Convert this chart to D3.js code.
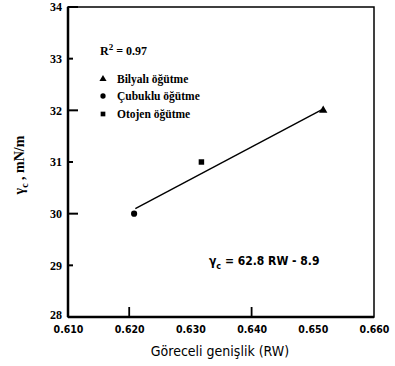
<!DOCTYPE html>
<html><head><meta charset="utf-8">
<script src="https://cdn.jsdelivr.net/npm/d3@7/dist/d3.min.js"></script>
<style>body{margin:0;background:#fff}svg{display:block}</style>
</head><body><svg id="c" width="395" height="366"></svg>
<script>
const xTicks = [0.610, 0.620, 0.630, 0.640, 0.650, 0.660];
const xTickLabels = ["0.610", "0.620", "0.630", "0.640", "0.650", "0.660"];
const yTicks = [28, 29, 30, 31, 32, 33, 34];
const seriesNames = ["Bilyalı öğütme", "Çubuklu öğütme", "Otojen öğütme"];
const seriesSymbols = ["triangle", "circle", "square"];
const seriesX = [0.6517, 0.6208, 0.6318];
const seriesY = [32.0, 30.0, 31.0];
const fitSlope = 62.8, fitIntercept = -8.9;
const fitRange = [0.621, 0.6515];

const svg = d3.select("#c");
const m = {l: 68, r: 21, t: 7, b: 49};
const W = 395, H = 366;
const x = d3.scaleLinear().domain([0.610, 0.660]).range([m.l, W - m.r]);
const y = d3.scaleLinear().domain([28, 34]).range([H - m.b, m.t]);
const serif = "'Liberation Serif', serif";
const sans = "'DejaVu Sans Condensed','DejaVu Sans', sans-serif";

// frame
svg.append("rect").attr("x", x(0.610)).attr("y", y(34)).attr("width", x(0.660) - x(0.610)).attr("height", y(28) - y(34))
  .attr("fill", "none").attr("stroke", "#000").attr("stroke-width", 1.5);
svg.append("line").attr("x1", x(0.610)).attr("x2", x(0.610)).attr("y1", y(34)).attr("y2", y(28)).attr("stroke", "#000").attr("stroke-width", 2.5);
svg.append("line").attr("x1", x(0.610)).attr("x2", x(0.660)).attr("y1", y(28)).attr("y2", y(28)).attr("stroke", "#000").attr("stroke-width", 2.5);

// y axis
const ya = d3.axisLeft(y).tickValues(yTicks).tickSize(0).tickPadding(6).tickFormat(d3.format("d"));
const gy = svg.append("g").attr("transform", `translate(${x(0.610)},0)`).call(ya);
gy.select(".domain").remove();
gy.selectAll("text").attr("font-family", serif).attr("font-weight", "bold").attr("font-size", 12).attr("fill", "#000")
  .attr("dy", d => (d === 28 ? "0.1em" : "0.32em"));
// inward y ticks
svg.append("g").selectAll("line").data(yTicks).join("line")
  .attr("x1", x(0.610)).attr("x2", d => x(0.610) + (d % 2 === 0 ? 10 : 5))
  .attr("y1", d => y(d)).attr("y2", d => y(d)).attr("stroke", "#000").attr("stroke-width", 2);

// x axis
const xa = d3.axisBottom(x).tickValues(xTicks).tickSize(0).tickPadding(9).tickFormat((d, i) => xTickLabels[i]);
const gx = svg.append("g").attr("transform", `translate(0,${y(28)})`).call(xa);
gx.select(".domain").remove();
gx.selectAll("text").attr("font-family", sans).attr("font-weight", "bold").attr("font-size", 10.5).attr("fill", "#000");
// inward x ticks
svg.append("g").selectAll("line").data(xTicks.filter((d, i) => i === 1 || i === 3)).join("line")
  .attr("x1", d => x(d)).attr("x2", d => x(d)).attr("y1", y(28)).attr("y2", y(28) - 10)
  .attr("stroke", "#000").attr("stroke-width", 1.8);

// fit line
svg.append("line")
  .attr("x1", x(fitRange[0])).attr("y1", y(fitSlope * fitRange[0] + fitIntercept))
  .attr("x2", x(fitRange[1])).attr("y2", y(fitSlope * fitRange[1] + fitIntercept))
  .attr("stroke", "#000").attr("stroke-width", 1.4);

const symType = {triangle: d3.symbolTriangle, circle: d3.symbolCircle, square: d3.symbolSquare};
// points
seriesX.forEach((v, i) => {
  svg.append("path").attr("d", d3.symbol().type(symType[seriesSymbols[i]]).size(30)())
    .attr("transform", `translate(${x(v)},${y(seriesY[i])})`).attr("fill", "#000");
});

// R^2
const r2 = svg.append("text").attr("x", 100).attr("y", 55).attr("font-family", serif).attr("font-weight", "bold").attr("font-size", 12);
r2.append("tspan").text("R");
r2.append("tspan").attr("dy", -5).attr("font-size", 9).text("2");
r2.append("tspan").attr("dy", 5).text(" = 0.97");

// legend
const legY = [79, 96, 114];
seriesNames.forEach((n, i) => {
  svg.append("path").attr("d", d3.symbol().type(symType[seriesSymbols[i]]).size(22)())
    .attr("transform", `translate(103,${legY[i]})`).attr("fill", "#000");
  svg.append("text").attr("x", 117).attr("y", legY[i] + 4).attr("font-family", serif).attr("font-weight", "bold")
    .attr("font-size", 11.5).text(n);
});

// equation
const eq = svg.append("text").attr("x", 209).attr("y", 265).attr("font-family", sans).attr("font-weight", "bold").attr("font-size", 12);
eq.append("tspan").text("γ");
eq.append("tspan").attr("dy", 4).attr("font-size", 9).text("c");
eq.append("tspan").attr("dy", -4).text(" = 62.8 RW - 8.9");

// axis titles
svg.append("text").attr("x", 220).attr("y", 356).attr("text-anchor", "middle").attr("font-family", sans)
  .attr("font-size", 14).text("Göreceli genişlik (RW)");
const yt = svg.append("text").attr("transform", "translate(24,165) rotate(-90)").attr("text-anchor", "middle")
  .attr("font-family", serif).attr("font-weight", "bold").attr("font-size", 14);
yt.append("tspan").text("γ");
yt.append("tspan").attr("dy", 4).attr("font-size", 10).text("c");
yt.append("tspan").attr("dy", -4).text(" , mN/m");
</script></body></html>
